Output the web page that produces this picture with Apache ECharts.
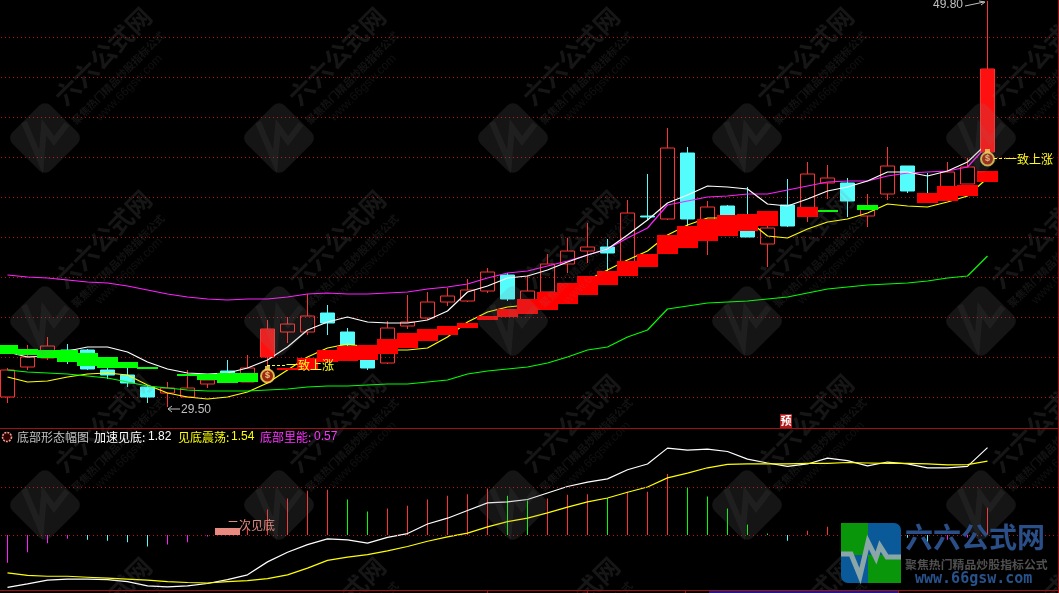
<!DOCTYPE html>
<html><head><meta charset="utf-8">
<style>html,body{margin:0;padding:0;background:#000}#c{width:1059px;height:593px}</style>
<script src="https://cdn.jsdelivr.net/npm/echarts@6/dist/echarts.min.js"></script>
</head><body><div id="c"></div>
<script>
// ---------- data ----------
// candles: [open, close, low, high]
var candles = [
[30.00,31.35,29.70,31.45],[31.50,32.00,31.35,32.60],[31.95,32.55,31.85,33.00],[32.35,31.95,31.65,32.65],[32.35,31.40,31.35,32.40],
[31.35,31.10,30.90,31.50],[31.10,30.70,30.50,31.45],[30.50,30.00,29.70,30.60],[30.20,30.45,29.50,30.75],[30.00,30.45,30.00,31.35],
[30.65,30.85,30.45,31.15],[31.30,30.85,30.80,31.85],[30.75,31.45,30.75,32.10],[32.00,33.40,31.50,33.85],[33.25,33.65,32.70,34.00],
[33.25,34.05,33.10,35.15],[34.20,33.70,33.10,34.60],[33.25,32.60,32.45,33.45],[32.25,31.45,31.35,32.30],[31.70,33.45,31.65,33.80],
[33.55,33.75,33.40,35.10],[33.95,34.75,33.85,35.25],[34.75,35.05,34.55,35.45],[34.80,35.35,34.75,35.90],[35.30,36.25,35.20,36.45],
[36.10,34.90,34.80,36.20],[34.85,35.30,34.75,36.10],[35.25,36.65,35.25,37.15],[36.65,37.30,36.20,37.95],[37.30,37.50,36.70,38.70],
[37.50,37.20,36.30,37.90],[36.75,39.20,36.75,39.85],[39.05,39.00,38.85,41.15],[38.90,42.45,38.85,43.45],[42.20,38.90,38.55,42.50],
[38.25,39.50,37.10,39.80],[39.55,38.55,38.50,39.60],[39.05,38.00,38.00,40.50],[37.65,38.45,36.50,38.55],[39.60,38.55,38.50,40.90],
[39.25,41.15,38.75,41.75],[40.70,40.95,39.90,41.60],[40.70,39.80,39.00,40.95],[39.05,39.55,38.50,40.15],[40.15,41.55,39.85,42.50],
[41.55,40.30,40.20,41.55],[40.10,39.85,39.85,41.20],[39.85,41.25,39.85,41.75],[40.65,41.50,40.65,41.95],[42.25,46.40,42.25,49.80]];
var filledBodies = [[13,32.00,33.40],[49,42.25,46.40]];
var fastLine = [32.25,32.00,32.05,32.30,32.50,32.50,32.25,31.75,31.40,31.20,31.15,31.20,31.45,31.85,32.50,33.35,33.75,34.00,33.75,33.70,33.70,33.85,34.30,35.25,35.55,35.95,36.05,36.35,36.75,37.10,37.40,38.10,38.85,39.70,40.10,40.55,40.50,40.40,39.65,39.55,39.90,40.30,40.50,40.80,41.25,41.25,41.05,41.30,41.75,42.70];
var upperLine = [36.10,36.00,35.95,35.85,35.75,35.70,35.55,35.35,35.15,35.00,34.90,34.85,34.90,34.90,35.00,35.15,35.20,35.15,35.15,35.20,35.25,35.40,35.50,35.65,35.95,36.20,36.30,36.55,36.80,37.10,37.40,37.95,38.45,39.60,39.80,40.00,40.05,40.15,40.15,40.35,40.55,40.75,40.80,40.80,41.05,41.20,41.25,41.30,41.50,42.60];
var midLine = [31.00,30.75,30.80,31.00,31.15,31.20,31.10,30.60,30.20,30.00,29.90,30.00,30.25,30.70,31.35,32.00,32.45,32.65,32.50,32.35,32.35,32.45,33.00,33.75,34.25,34.50,34.60,35.00,35.45,35.85,36.35,36.85,37.30,38.10,38.60,38.95,38.95,38.85,38.05,37.95,38.40,38.75,38.90,39.20,39.65,39.55,39.50,39.75,40.05,40.95];
var lowerLine = [31.35,31.25,31.20,31.15,31.05,30.95,30.75,30.55,30.45,30.35,30.30,30.30,30.30,30.35,30.40,30.50,30.55,30.55,30.60,30.65,30.65,30.75,30.85,31.15,31.30,31.40,31.50,31.70,32.00,32.35,32.50,33.00,33.35,34.40,34.55,34.70,34.75,34.80,34.90,35.00,35.20,35.40,35.50,35.60,35.65,35.70,35.80,35.95,36.05,37.05];
var greenBlocks = [[0,32.15,32.60],[1,32.10,32.40],[2,31.95,32.35],[3,31.75,32.35],[4,31.55,32.20],[5,31.45,32.00],[6,31.45,31.75],[7,31.40,31.50],[9,31.05,31.15],[10,30.85,31.15],[11,30.70,31.20],[12,30.75,31.20],[41,39.25,39.35],[43,39.35,39.60]];
var redBlocks = [[14,31.35,31.45],[15,31.35,31.95],[16,31.75,32.35],[17,31.80,32.55],[18,31.85,32.60],[19,32.15,32.90],[20,32.45,33.20],[21,32.80,33.40],[22,33.10,33.55],[23,33.45,33.70],[24,33.85,34.05],[25,34.00,34.40],[26,34.15,34.90],[27,34.35,35.25],[28,34.65,35.70],[29,35.10,36.05],[30,35.60,36.30],[31,36.05,36.80],[32,36.50,37.15],[33,37.15,38.10],[34,37.45,38.55],[35,37.80,38.90],[36,38.05,39.10],[37,38.30,39.15],[38,38.55,39.30],[40,39.00,39.50],[46,39.70,40.20],[47,39.80,40.55],[48,40.05,40.60],[49,40.75,41.30]];
var bagPoints = [[13,31.05],[49,41.90]];
// lower panel
var stickValues = [-0.58,-0.36,-0.17,-0.08,-0.10,-0.12,-0.15,-0.24,-0.20,-0.15,-0.03,0,0.15,0.53,0.76,0.92,0.94,0.74,0.49,0.55,0.61,0.74,0.82,0.85,0.97,0.82,0.72,0.76,0.84,0.85,0.77,0.90,0.90,1.27,0.99,0.80,0.55,0.22,0.03,-0.12,0.09,0.17,0.05,-0.10,-0.03,-0.06,-0.15,-0.10,-0.05,0.57];
var stickKinds = ['m','m','m','m','c','c','c','c','m','m','m','r','r','r','r','r','r','g','g','r','r','r','r','r','r','g','g','r','r','r','g','r','r','r','g','g','g','g','g','c','r','r','g','c','m','c','c','m','m','r'];
var accelLine = [-1.09,-1.02,-0.94,-0.92,-0.92,-0.93,-0.97,-1.06,-1.08,-1.06,-1.01,-0.93,-0.83,-0.56,-0.36,-0.20,-0.08,-0.10,-0.17,-0.05,0.03,0.23,0.35,0.51,0.67,0.69,0.74,0.875,1.01,1.10,1.17,1.36,1.48,1.81,1.77,1.79,1.74,1.58,1.50,1.43,1.48,1.60,1.55,1.44,1.52,1.48,1.40,1.40,1.43,1.82];
var shakeLine = [-0.79,-0.84,-0.86,-0.86,-0.88,-0.90,-0.92,-0.94,-0.97,-0.99,-1.00,-0.97,-0.95,-0.91,-0.83,-0.69,-0.53,-0.46,-0.41,-0.33,-0.24,-0.13,-0.04,0.04,0.17,0.28,0.35,0.46,0.58,0.69,0.77,0.89,1.00,1.19,1.29,1.40,1.47,1.48,1.48,1.48,1.49,1.49,1.51,1.50,1.49,1.49,1.48,1.46,1.465,1.54];
var secondBottom = [[11,0,0.15]];
var lowerLevels = [0,1];
var categories = []; for (var n = 0; n < 53; n++) categories.push(String(n));
var legendItems = [
 {t:'底部形态幅图',x:17,c:'#c0c0c0'},{t:'加速见底:',x:94,c:'#ffffff'},{t:'1.82',x:148,c:'#ffffff'},
 {t:'见底震荡:',x:178,c:'#ffff00'},{t:'1.54',x:231,c:'#ffff00'},{t:'底部里能:',x:260,c:'#ff33ff'},{t:'0.57',x:314,c:'#ff33ff'}];

// ---------- helpers ----------
var RED='#ff3232', CYAN='#54fcfc', GRID='#c01010', BORDER='#a01010';
var kindColor={r:'#ff3232',g:'#00ff00',c:'#54fcfc',m:'#ff20ff'};
var FONT='"Noto Sans CJK SC","Liberation Sans",sans-serif', NUM='"Liberation Sans",sans-serif';
function blockSeries(name,data,w,color,z,gi){
  return {name:name,type:'custom',xAxisIndex:gi||0,yAxisIndex:gi||0,z:z,clip:false,silent:true,data:data,encode:{x:0,y:[1,2]},
    renderItem:function(p,api){
      var a=api.coord([api.value(0),api.value(2)]), b=api.coord([api.value(0),api.value(1)]);
      return {type:'rect',shape:{x:Math.floor(a[0]-w/2),y:Math.round(a[1]),width:w,height:Math.max(1,Math.round(b[1]-a[1]))},style:{fill:color}};
    }};
}
function lineSeries(name,data,color,gi,z){
  return {name:name,type:'line',xAxisIndex:gi,yAxisIndex:gi,data:data,showSymbol:false,symbol:'none',silent:true,z:z||4,clip:false,
    lineStyle:{color:color,width:1.2},animation:false};
}
var g=[];
function wmark(cx,cy){
  g.push({type:'rect',x:cx,y:cy,rotation:Math.PI/4,z:90,silent:true,shape:{x:-27,y:-27,width:54,height:54,r:8},style:{fill:'rgba(128,128,128,0.16)'}});
  g.push({type:'polyline',x:cx,y:cy,z:91,silent:true,shape:{points:[[-21,-16],[-4,24],[-1,-11],[9,3],[22,-14]]},style:{fill:null,stroke:'rgba(128,128,128,0.10)',lineWidth:6}});
  [['六六公式网',58,-82,'700 25px '+FONT,0.17],['聚焦热门精品炒股指标公式',73,-60,'700 10.5px '+FONT,0.15],['www.66gsw.com',84,-50,'400 12px '+NUM,0.12]].forEach(function(t){
    g.push({type:'text',x:cx+t[1],y:cy+t[2],rotation:Math.PI/4,z:90,silent:true,style:{text:t[0],font:t[3],fill:'rgba(128,128,128,'+t[4]+')',align:'center',verticalAlign:'middle'}});
  });
}
[45,279,513,747,981].forEach(function(x){[138,321,505,688].forEach(function(y){wmark(x,y);});});

function txt(t,x,y,c,font,align){g.push({type:'text',x:x,y:y,z:95,silent:true,style:{text:t,font:font||('12px '+FONT),fill:c,align:align||'left',verticalAlign:'middle'}});}
function poly(pts,c,dash,w){g.push({type:'polyline',z:94,silent:true,shape:{points:pts},style:{fill:null,stroke:c,lineWidth:w||1,lineDash:dash||null}});}
function box(x,y,w,h,c,r,z){g.push({type:'rect',z:z||96,silent:true,shape:{x:x,y:y,width:w,height:h,r:r||0},style:{fill:c}});}

// frame
box(0,428,1059,1,BORDER,0,93); box(0,590,1059,1,BORDER,0,93); box(1058,0,1,593,BORDER,0,93);
box(709,591,189,2,'#1a1a8a',0,93);
[487,587,685,898].forEach(function(x){box(x,590,1,3,BORDER,0,93);});
// legend
legendItems.forEach(function(it){txt(it.t,it.x,437,it.c,(/[0-9]/.test(it.t)?'12px '+NUM:'12px '+FONT));});
g.push({type:'circle',z:95,silent:true,shape:{cx:7,cy:437,r:4.5},style:{fill:'#300',stroke:'#f0a090',lineWidth:1.6,lineDash:[2,1]}});
// annotations
txt('29.50',181,410,'#c0c0c0','12px '+NUM);
poly([[168,409],[180,409]],'#c0c0c0'); poly([[172,406],[168,409],[172,412]],'#c0c0c0');
txt('49.80',933,5,'#c0c0c0','12px '+NUM);
poly([[965,6],[984,2]],'#c0c0c0'); poly([[979,1],[985,2],[981,5]],'#c0c0c0');
txt('一致上涨',286,365,'#ffff20'); poly([[267,365.5],[286,365.5]],'#ffff20',[3,2]);
txt('一致上涨',1005,159,'#ffff20'); poly([[994,158.5],[1005,158.5]],'#ffff20',[3,2]);
box(780,414,12,14,'#b01818',0,95); txt('预',786,421,'#fff','700 11px '+FONT,'center');
txt('二次见底',227,525,'#e08a80');
// brand block
box(841,523,60,60,'#0a5a9a',7,97);
box(841,523,27,32,'#0a960a',0,97); box(868,555,33,28,'#0a960a',0,97);
g.push({type:'polyline',z:98,silent:true,shape:{points:[[841,554],[851,554],[860,576],[868,542],[876,558],[880,546],[887,557],[901,557]]},style:{fill:null,stroke:'#8aa6a8',lineWidth:5}});
txt('六六公式网',905,537,'#2a4f88','700 28px '+FONT);
txt('聚焦热门精品炒股指标公式',905,564,'#505050','700 11.9px '+FONT);
txt('www.66gsw.com',915,579,'#27528c','700 15px "DejaVu Sans Mono",monospace');

// ---------- chart ----------
var chart=echarts.init(document.getElementById('c'),null,{renderer:'canvas'});
var hidden={show:false};
var dotted={color:GRID,width:1,type:[1,3],dashOffset:0.5};
chart.setOption({
  animation:false,backgroundColor:'#000',
  grid:[{left:-2.5,width:1060,top:-3,height:440,show:false,outerBoundsMode:'none'},{left:-2.5,width:1060,top:428,height:162,show:false,outerBoundsMode:'none'}],
  xAxis:[{type:'category',data:categories,gridIndex:0,show:false,boundaryGap:true},{type:'category',data:categories,gridIndex:1,show:false,boundaryGap:true}],
  yAxis:[
   {type:'value',gridIndex:0,min:28,max:50,interval:2,axisLabel:hidden,axisLine:hidden,axisTick:hidden,
    splitLine:{show:true,showMinLine:false,showMaxLine:false,lineStyle:dotted}},
   {type:'value',gridIndex:1,min:-1.146,max:2.229,show:false,splitLine:hidden}],
  graphic:{elements:g},
  series:[
   {name:'K线',type:'candlestick',xAxisIndex:0,yAxisIndex:0,data:candles,barWidth:15,z:3,silent:true,clip:false,
    itemStyle:{color:'rgba(0,0,0,0)',color0:CYAN,borderColor:RED,borderColor0:CYAN,borderWidth:1}},
   lineSeries('上轨',upperLine,'#ff20ff',0), lineSeries('白线',fastLine,'#ffffff',0),
   lineSeries('黄线',midLine,'#ffff00',0), lineSeries('绿线',lowerLine,'#00ff00',0),
   blockSeries('绿块',greenBlocks,21,'#00ff00',6), blockSeries('红块',redBlocks,21,'#ff0000',6),
   blockSeries('实体',filledBodies,13,'#ff1010',7),
   {name:'标记颈',type:'scatter',xAxisIndex:0,yAxisIndex:0,data:bagPoints,symbol:'rect',symbolSize:[5,4],symbolOffset:[0,-8],z:8,silent:true,clip:false,itemStyle:{color:'#ffe060'}},
   {name:'标记',type:'scatter',xAxisIndex:0,yAxisIndex:0,data:bagPoints,symbol:'circle',symbolSize:13,z:8,silent:true,clip:false,
    itemStyle:{color:'#c03010',borderColor:'#ffe060',borderWidth:2},
    label:{show:true,position:'inside',formatter:'$',color:'#ffe8a0',fontSize:9,fontWeight:700,fontFamily:NUM}},
   {name:'量能',type:'bar',xAxisIndex:1,yAxisIndex:1,barWidth:1,z:3,silent:true,
    data:stickValues.map(function(v,i){return {value:v,itemStyle:{color:kindColor[stickKinds[i]]}};}),
    markLine:{silent:true,symbol:'none',animation:false,label:hidden,lineStyle:dotted,data:lowerLevels.map(function(v){return {yAxis:v};})}},
   blockSeries('二次见底',secondBottom,25,'#e98a80',5,1),
   lineSeries('加速见底',accelLine,'#ffffff',1), lineSeries('见底震荡',shakeLine,'#ffff00',1)
  ]
});
</script></body></html>
